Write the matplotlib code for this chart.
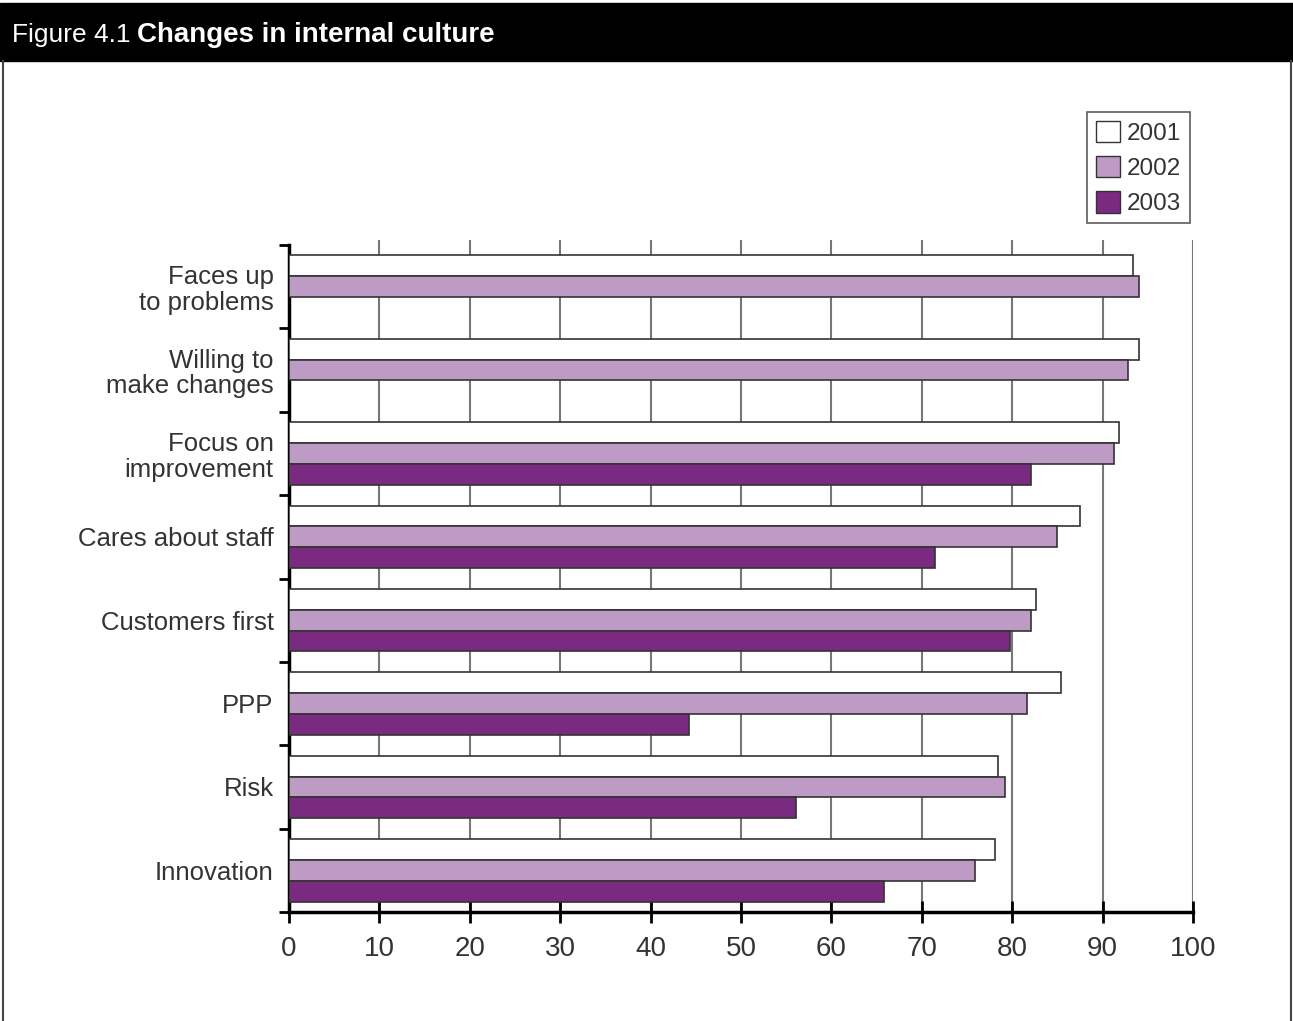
import numpy as np
import matplotlib
matplotlib.use("Agg")
import matplotlib.pyplot as plt
from matplotlib.patches import Patch, Rectangle
from matplotlib.lines import Line2D

categories = ["Faces up\nto problems", "Willing to\nmake changes", "Focus on\nimprovement",
              "Cares about staff", "Customers first", "PPP", "Risk", "Innovation"]
years = ["2001", "2002", "2003"]
v2001 = [93.4, 94.0, 91.8, 87.5, 82.6, 85.4, 78.4, 78.1]
v2002 = [94.0, 92.8, 91.3, 85.0, 82.1, 81.6, 79.2, 75.9]
v2003 = [np.nan, np.nan, 82.1, 71.5, 79.8, 44.2, 56.1, 65.8]
colors = ["#ffffff", "#be9bc4", "#7b2a82"]
xticks = list(range(0, 101, 10))

plt.rcParams['font.family'] = ['Liberation Sans', 'DejaVu Sans']

fig = plt.figure(figsize=(12.93, 10.21), dpi=100)

# header band and frame
fig.patches.append(Rectangle((0, 1 - 61/1021), 1, 58/1021, transform=fig.transFigure,
                             color="black", zorder=0))
fig.add_artist(Line2D([3/1293, 3/1293], [0, 1 - 61/1021], transform=fig.transFigure,
                      color="#444444", lw=1.5))
fig.add_artist(Line2D([1291/1293, 1291/1293], [0, 1 - 61/1021], transform=fig.transFigure,
                      color="#444444", lw=1.5))
fig.text(12/1293, 1 - 35/1021, "Figure 4.1", color="white", fontsize=19, va="center")
fig.text(137/1293, 1 - 35/1021, "Changes in internal culture", color="white",
         fontsize=20, fontweight="bold", va="center")

ax = fig.add_axes([289/1293, 1 - 912/1021, 904/1293, 672/1021])
y = np.arange(len(categories))
h = 0.25
for i, (vals, c, lab) in enumerate(zip([v2001, v2002, v2003], colors, years)):
    ax.barh(y + (i - 1) * h, vals, height=h, color=c, edgecolor="#333333",
            linewidth=1.2, label=lab, zorder=3)

ax.set_xlim(0, 100)
ax.set_ylim(len(categories) - 0.5, -0.56)
ax.set_xticks(xticks)
ax.set_xticklabels([str(t) for t in xticks], fontsize=20, color="#333333")
ax.set_yticks(y)
ax.set_yticklabels(categories, fontsize=18.5, color="#333333", linespacing=1.1)
ax.tick_params(axis="y", which="major", length=0, pad=11)
ax.set_yticks(np.arange(-0.5, len(categories)), minor=True)
ax.tick_params(axis="y", which="minor", length=7, width=2, direction="out", color="black")
ax.tick_params(axis="x", length=16, width=2, direction="inout", pad=9, color="black")

for t in xticks[1:]:
    ax.axvline(t, color="#777777", lw=1.5, zorder=1)

for s in ["top", "right"]:
    ax.spines[s].set_visible(False)
ax.spines["left"].set_linewidth(2.5)
ax.spines["bottom"].set_linewidth(2.5)
ax.spines["left"].set_bounds(len(categories) - 0.5, -0.5)

handles = [Patch(facecolor=c, edgecolor="#333333", label=l) for c, l in zip(colors, years)]
leg = fig.legend(handles=handles, loc="upper right", bbox_to_anchor=(1190/1293, 1 - 112/1021),
                 fontsize=17.5, frameon=True, fancybox=False, edgecolor="#333333",
                 handlelength=1.0, handleheight=1.0, handletextpad=0.3, borderpad=0.35,
                 labelspacing=0.45, borderaxespad=0)
leg.get_frame().set_linewidth(1.2)
for t in leg.get_texts():
    t.set_color("#333333")

fig.savefig("out.png", dpi=100)
